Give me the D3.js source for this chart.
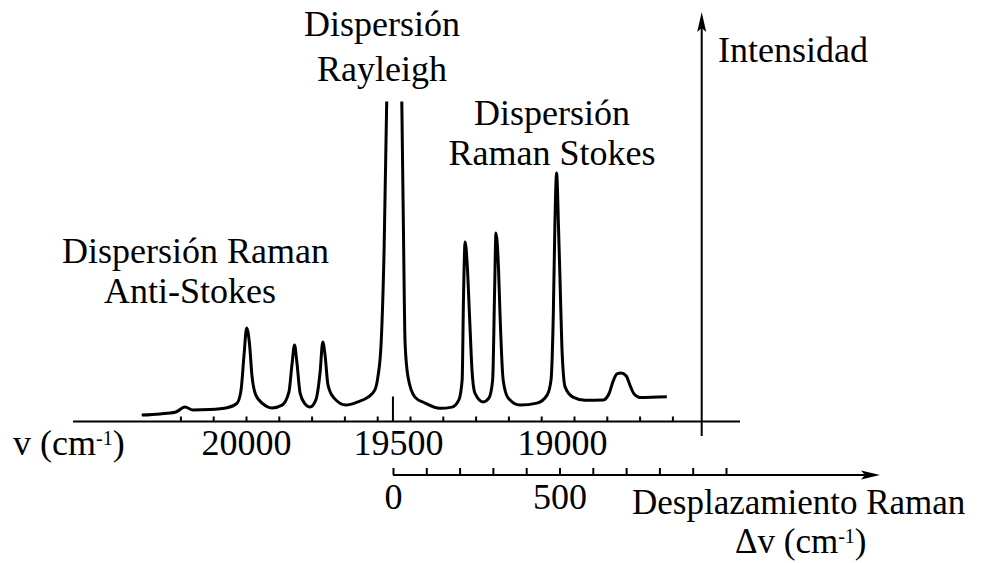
<!DOCTYPE html>
<html>
<head>
<meta charset="utf-8">
<script src="https://cdn.jsdelivr.net/npm/d3@7"></script>
<style>
  html, body { margin: 0; padding: 0; background: #fff; }
  svg { display: block; }
  text { font-family: "Liberation Serif", "Times New Roman", serif; fill: #000; }
</style>
</head>
<body>
<svg id="chart" width="984" height="563"></svg>
<script>
// Absolute wavenumber of the trace points (cm-1) and their relative intensity.
// A null intensity marks the off-scale top of the Rayleigh line.
const wavenumber = [
  20318, 20262, 20216, 20186, 20162, 20110, 20055, 20027, 20015, 20006,
  19998, 19989, 19982, 19970, 19948, 19921, 19890, 19869, 19860, 19852,
  19845, 19835, 19820, 19805, 19787, 19774, 19766, 19759, 19750, 19732,
  19695, 19659, 19628, 19607, 19598, 19588, 19579, 19571, 19548, 19525,
  19520, 19515, 19506, 19485, 19454, 19409, 19372, 19351, 19341, 19337,
  19332, 19326, 19318, 19311, 19302, 19277, 19259, 19248, 19242, 19238,
  19230, 19226, 19216, 19201, 19165, 19113, 19082, 19070, 19063, 19058,
  19053, 19047, 19043, 19037, 19027, 19003, 18966, 18911, 18893, 18881,
  18869, 18857, 18841, 18829, 18817, 18799, 18717
];
const intensity = [
  1.6, 1.9, 2.3, 3.6, 2.9, 3.0, 3.5, 4.6, 7.9, 16.6,
  23.4, 19.1, 11.6, 6.6, 4.4, 3.4, 4.1, 7.4, 14.1, 19.1,
  14.9, 7.1, 4.4, 3.6, 5.4, 12.4, 19.9, 16.6, 9.1, 5.9,
  4.1, 4.9, 6.1, 7.9, 11.1, 19.6, 42.9, 80.0, null, 80.0,
  47.9, 19.6, 11.1, 6.1, 4.6, 3.3, 3.6, 5.4, 10.4, 30.4,
  44.9, 39.9, 25.4, 12.9, 7.1, 4.9, 5.9, 10.4, 32.9, 47.1,
  37.9, 27.9, 10.4, 5.9, 4.1, 4.6, 6.6, 10.4, 27.1, 50.4,
  62.1, 47.9, 36.6, 18.9, 8.6, 6.1, 5.3, 5.4, 7.0, 10.0,
  11.9, 12.1, 11.4, 9.0, 6.9, 6.0, 6.2
];

// Top axis: absolute wavenumber
const wavenumberTicks = d3.range(20200, 18600, -100);
const wavenumberLabels = [20000, 19500, 19000];
const rayleighLine = 19552;

// Bottom axis: Raman shift
const shiftTicks = d3.range(0, 1001, 100);
const shiftLabels = [0, 500];

// Annotation texts
const rayleighTitle = ["Dispersión", "Rayleigh"];
const stokesTitle = ["Dispersión", "Raman Stokes"];
const antiStokesTitle = ["Dispersión Raman", "Anti-Stokes"];
const intensityTitle = "Intensidad";
const shiftTitle = "Desplazamiento Raman";

const svg = d3.select("#chart");
const FS = 36;

// Layout
const axisY = 421.5;
const shiftAxisY = 475;
const intensityX = 701.7;

const x = d3.scaleLinear().domain([20000, 19000]).range([246, 574]);
const y = d3.scaleLinear().domain([0, 80]).range([axisY, 101.5]);
const xShift = d3.scaleLinear().domain([0, 1000]).range([393, 726]);

// Spectrum trace
const trace = wavenumber.map((v, i) => ({ v, i: intensity[i] }));
const line = d3.line()
  .defined(d => d.i !== null)
  .x(d => x(d.v))
  .y(d => y(d.i))
  .curve(d3.curveMonotoneX);

svg.append("path")
  .datum(trace)
  .attr("d", line)
  .attr("fill", "none")
  .attr("stroke", "#000")
  .attr("stroke-width", 3)
  .attr("stroke-linejoin", "round");

// Wavenumber axis
svg.append("line")
  .attr("x1", 73).attr("x2", 740)
  .attr("y1", axisY).attr("y2", axisY)
  .attr("stroke", "#000").attr("stroke-width", 2);

const topAxis = d3.axisBottom(x)
  .tickValues(wavenumberTicks)
  .tickSize(-5)
  .tickPadding(8)
  .tickFormat(d => wavenumberLabels.includes(d) ? String(d) : "");

const gTop = svg.append("g")
  .attr("transform", `translate(0,${axisY})`)
  .call(topAxis);
gTop.select(".domain").remove();
gTop.selectAll(".tick line").attr("stroke", "#000").attr("stroke-width", 2);
gTop.selectAll(".tick text")
  .attr("font-family", "Liberation Serif")
  .attr("font-size", FS)
  .attr("fill", "#000")
  // labels right of the first one sit a little left of their tick
  .attr("dx", d => d < wavenumberLabels[0] ? -12 : 0);

// Excitation line marker
svg.append("line")
  .attr("x1", x(rayleighLine)).attr("x2", x(rayleighLine))
  .attr("y1", axisY).attr("y2", axisY - 25)
  .attr("stroke", "#000").attr("stroke-width", 2);

// Intensity axis with arrow
svg.append("line")
  .attr("x1", intensityX).attr("x2", intensityX)
  .attr("y1", 436).attr("y2", 24)
  .attr("stroke", "#000").attr("stroke-width", 2);
svg.append("path")
  .attr("d", `M${intensityX},12 L${intensityX + 4.5},32 L${intensityX},28 L${intensityX - 4.5},32 Z`)
  .attr("fill", "#000");

// Raman shift axis
svg.append("line")
  .attr("x1", xShift(0)).attr("x2", 870)
  .attr("y1", shiftAxisY).attr("y2", shiftAxisY)
  .attr("stroke", "#000").attr("stroke-width", 2);
svg.append("path")
  .attr("d", `M880,${shiftAxisY} L861,${shiftAxisY - 4.5} L865,${shiftAxisY} L861,${shiftAxisY + 4.5} Z`)
  .attr("fill", "#000");

const bottomAxis = d3.axisBottom(xShift)
  .tickValues(shiftTicks)
  .tickSize(-7)
  .tickPadding(8)
  .tickFormat(d => shiftLabels.includes(d) ? String(d) : "");
const gBot = svg.append("g")
  .attr("transform", `translate(0,${shiftAxisY})`)
  .call(bottomAxis);
gBot.select(".domain").remove();
gBot.selectAll(".tick line").attr("stroke", "#000").attr("stroke-width", 2);
gBot.selectAll(".tick text")
  .attr("font-family", "Liberation Serif")
  .attr("font-size", FS)
  .attr("fill", "#000");

// Multi-line labels
function block(lines, xPos, yPos, anchor, gap) {
  const t = svg.append("text")
    .attr("font-size", FS)
    .attr("text-anchor", anchor);
  lines.forEach((s, k) => {
    t.append("tspan")
      .attr("x", Array.isArray(xPos) ? xPos[k] : xPos)
      .attr("y", yPos + k * gap)
      .text(s);
  });
  return t;
}

block(rayleighTitle, 382, 36, "middle", 45);
block(stokesTitle, 552, 125, "middle", 40);
block(antiStokesTitle, [62, 104], 263, "start", 40);

svg.append("text")
  .attr("x", 718).attr("y", 62)
  .attr("font-size", FS)
  .text(intensityTitle);

// Units with superscript
function unitLabel(prefix, xPos, yPos, size) {
  const t = svg.append("text")
    .attr("x", xPos).attr("y", yPos)
    .attr("font-size", size);
  t.append("tspan").text(prefix + " (cm");
  t.append("tspan").attr("font-size", 20).attr("dy", -10).text("-1");
  t.append("tspan").attr("dy", 10).text(")");
  return t;
}

unitLabel("v", 13, 455, FS);

svg.append("text")
  .attr("x", 632).attr("y", 514)
  .attr("font-size", 35)
  .text(shiftTitle);
unitLabel("\u0394v", 735, 553, 35);
</script>
</body>
</html>
